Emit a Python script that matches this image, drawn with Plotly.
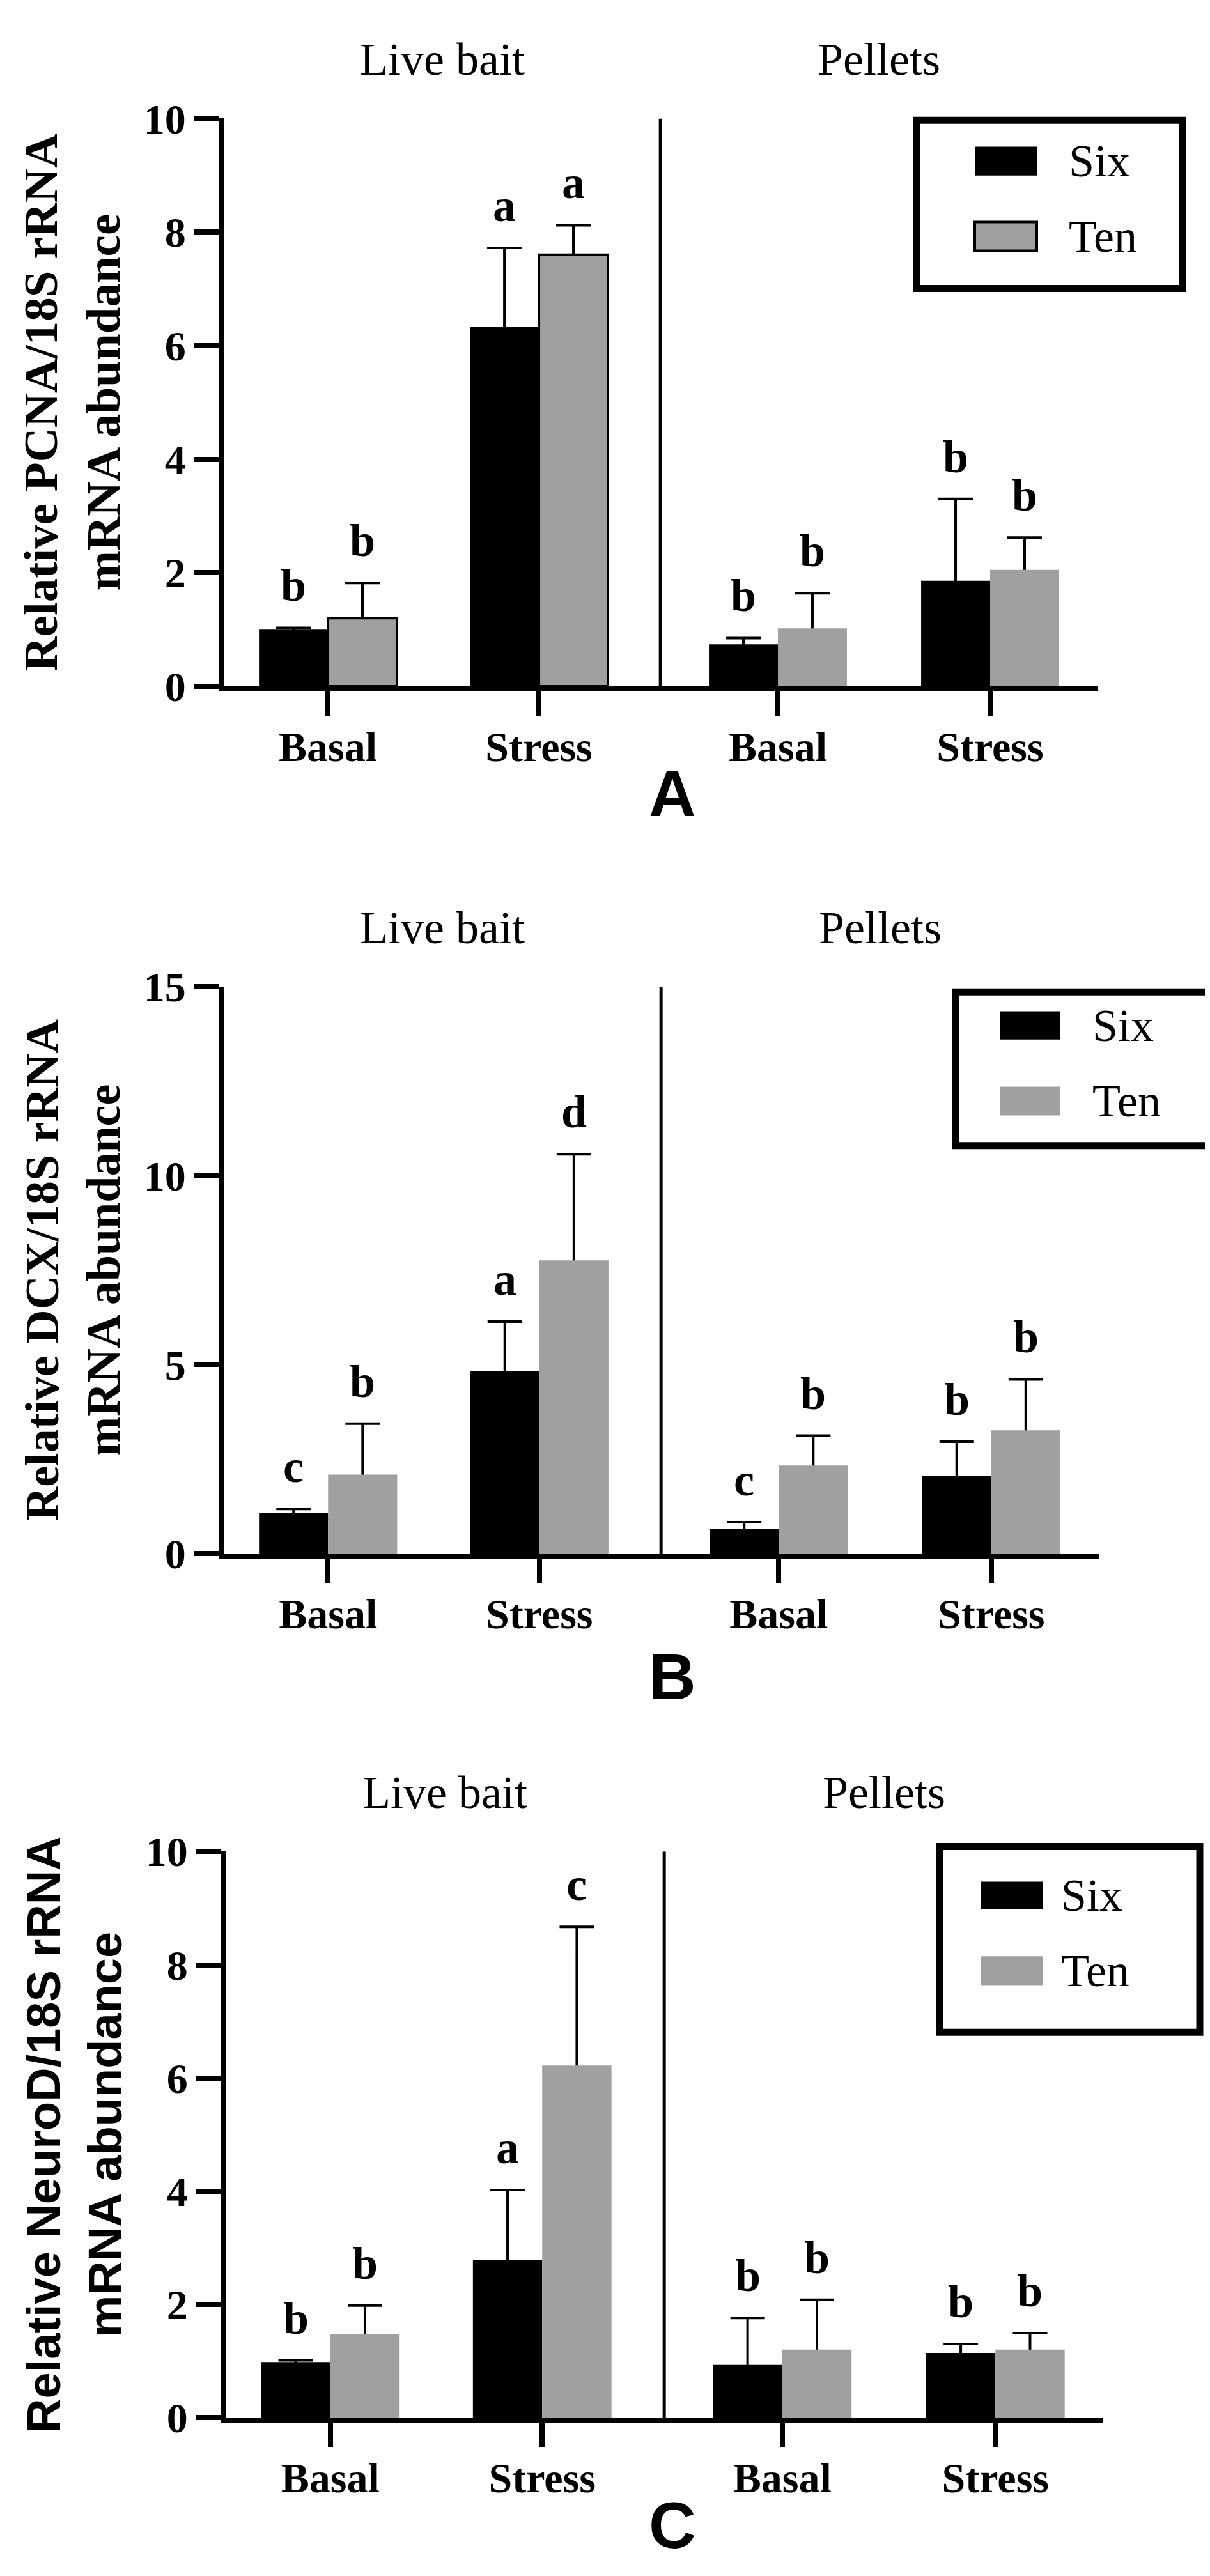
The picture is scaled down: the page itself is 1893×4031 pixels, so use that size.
import plotly.graph_objects as go

W, H = 1893, 4031

# ---------------- data ----------------
groups = ["Live bait", "Pellets"]
conditions = ["Basal", "Stress", "Basal", "Stress"]
series = ["Six", "Ten"]

pcna_six = [1.00, 6.33, 0.74, 1.86]
pcna_six_err = [0.03, 1.39, 0.11, 1.44]
pcna_ten = [1.20, 7.60, 1.02, 2.05]
pcna_ten_err = [0.62, 0.52, 0.62, 0.57]
pcna_six_letters = ["b", "a", "b", "b"]
pcna_ten_letters = ["b", "a", "b", "b"]

dcx_six = [1.08, 4.82, 0.65, 2.05]
dcx_six_err = [0.10, 1.32, 0.18, 0.91]
dcx_ten = [2.09, 7.76, 2.33, 3.26]
dcx_ten_err = [1.35, 2.81, 0.79, 1.35]
dcx_six_letters = ["c", "a", "c", "b"]
dcx_ten_letters = ["b", "d", "b", "b"]

neurod_six = [0.98, 2.78, 0.93, 1.14]
neurod_six_err = [0.03, 1.24, 0.83, 0.16]
neurod_ten = [1.48, 6.22, 1.20, 1.20]
neurod_ten_err = [0.50, 2.45, 0.88, 0.29]
neurod_six_letters = ["b", "a", "b", "b"]
neurod_ten_letters = ["b", "c", "b", "b"]

y_titles = ["Relative PCNA/18S rRNA<br>mRNA abundance",
            "Relative DCX/18S rRNA<br>mRNA abundance",
            "Relative NeuroD/18S rRNA<br>mRNA abundance"]
y_ranges = [10, 15, 10]
y_dticks = [2, 5, 2]
panel_labels = ["A", "B", "C"]

# ---------------- layout constants ----------------
SERIF = "Liberation Serif, Times New Roman, serif"
SANS = "Liberation Sans, Arial, sans-serif"
BLACK = "black"
GRAY = "rgb(160,160,163)"
CLEAR = "rgba(0,0,0,0)"

SLOT = [0, 1, 2.133, 3.139]   # x slots for the four categories
XR = [-0.494, 3.648]
DIV = 1.576
BW = 0.327
SHOE_PX = 6   # hide the lower whisker inside the bar

# pixel geometry per panel: (left, right, top, zero)
panels_px = [(342, 1709, 144, 1049), (342, 1711, 1528, 2431), (345, 1718, 2906, 3808)]
legend_px = [
    dict(box=(1426, 147, 1842, 415), six=(1517, 189, 1614, 235), ten=(1517, 309, 1614, 355), tx=1662, border_ten=True),
    dict(box=(1487, 1536, 1883, 1781), six=(1557, 1567, 1650, 1612), ten=(1557, 1687, 1650, 1733), tx=1699, border_ten=False),
    dict(box=(1462, 2898, 1869, 3194), six=(1527, 2954, 1624, 2998), ten=(1527, 3073, 1624, 3119), tx=1650, border_ten=False),
]
panel_letter_px = [(1044, 1220), (1044, 2628), (1044, 3980)]
title_fonts = [SERIF, SERIF, SANS]
title_sizes = [75, 74, 74]

def px(x):
    return x / W

def py(y):
    return 1 - y / H

datasets = [
    (pcna_six, pcna_six_err, pcna_ten, pcna_ten_err, pcna_six_letters, pcna_ten_letters),
    (dcx_six, dcx_six_err, dcx_ten, dcx_ten_err, dcx_six_letters, dcx_ten_letters),
    (neurod_six, neurod_six_err, neurod_ten, neurod_ten_err, neurod_six_letters, neurod_ten_letters),
]

fig = go.Figure()
shapes = []
annotations = []
layout_axes = {}

for i, (six, six_e, ten, ten_e, six_l, ten_l) in enumerate(datasets):
    n = "" if i == 0 else str(i + 1)
    xref, yref = "x" + n, "y" + n
    left, right, top, zero = panels_px[i]
    minus = [SHOE_PX * y_ranges[i] / (zero - top)] * 4
    ten_line_w = [4, 4, 0, 0] if i == 0 else [0, 0, 0, 0]

    def errs(arr):
        return dict(type="data", array=arr, arrayminus=minus, symmetric=False,
                    color=BLACK, thickness=4, width=27)

    # Six bars (error bars drawn on them; lower whisker hidden in the black fill)
    fig.add_trace(go.Bar(
        x=SLOT, y=six, name=series[0], xaxis=xref, yaxis=yref,
        offset=-BW, width=BW, marker=dict(color=BLACK, line=dict(width=0)),
        error_y=errs(six_e), showlegend=False))
    # Ten error bars (drawn beneath the Ten bars so only the upper part shows)
    fig.add_trace(go.Bar(
        x=SLOT, y=ten, name=series[1] + " SEM", xaxis=xref, yaxis=yref,
        offset=0, width=BW, marker=dict(color=CLEAR, line=dict(width=0)),
        error_y=errs(ten_e), showlegend=False, hoverinfo="skip"))
    # Ten bars
    fig.add_trace(go.Bar(
        x=SLOT, y=ten, name=series[1], xaxis=xref, yaxis=yref,
        offset=0, width=BW, marker=dict(color=GRAY, line=dict(width=ten_line_w, color=BLACK)),
        showlegend=False))

    layout_axes["xaxis" + n] = dict(
        domain=[px(left), px(right)], anchor=yref, range=XR,
        tickmode="array", tickvals=SLOT, ticktext=conditions,
        ticks="outside", ticklen=38, tickwidth=8, tickcolor=BLACK,
        showline=True, linewidth=8, linecolor=BLACK, showgrid=False, zeroline=False,
        tickfont=dict(family=SERIF, size=66, color=BLACK, weight="bold"),
        ticklabelstandoff=-8, fixedrange=True)
    layout_axes["yaxis" + n] = dict(
        domain=[py(zero), py(top)], anchor=xref, range=[0, y_ranges[i]],
        tickmode="linear", tick0=0, dtick=y_dticks[i],
        ticks="outside", ticklen=38, tickwidth=8, tickcolor=BLACK,
        showline=True, linewidth=8, linecolor=BLACK, showgrid=False, zeroline=False,
        tickfont=dict(family=SERIF, size=66, color=BLACK, weight="bold"),
        title=dict(text=y_titles[i], standoff=16,
                   font=dict(family=title_fonts[i], size=title_sizes[i], color=BLACK, weight="bold")),
        fixedrange=True)

    # divider between feed types
    shapes.append(dict(type="line", xref=xref, yref=yref, x0=DIV, x1=DIV, y0=0, y1=y_ranges[i],
                       line=dict(color=BLACK, width=5)))

    # group titles
    for gname, gx in zip(groups, [(XR[0] + DIV) / 2, (DIV + XR[1]) / 2]):
        annotations.append(dict(text=gname, xref=xref, yref=yref + " domain", x=gx, y=1,
                                xanchor="center", yanchor="bottom", yshift=50, showarrow=False,
                                font=dict(family=SERIF, size=72, color=BLACK)))

    # significance letters
    for k in range(4):
        annotations.append(dict(text=six_l[k], xref=xref, yref=yref, x=SLOT[k] - BW / 2,
                                y=six[k] + six_e[k], xanchor="center", yanchor="bottom", yshift=24,
                                showarrow=False,
                                font=dict(family=SERIF, size=72, color=BLACK, weight="bold")))
        annotations.append(dict(text=ten_l[k], xref=xref, yref=yref, x=SLOT[k] + BW / 2,
                                y=ten[k] + ten_e[k], xanchor="center", yanchor="bottom", yshift=24,
                                showarrow=False,
                                font=dict(family=SERIF, size=72, color=BLACK, weight="bold")))

    # legend box (drawn)
    lg = legend_px[i]
    bx0, by0, bx1, by1 = lg["box"]
    shapes.append(dict(type="rect", xref="paper", yref="paper", x0=px(bx0), x1=px(bx1),
                       y0=py(by1), y1=py(by0), line=dict(color=BLACK, width=11),
                       fillcolor="white", layer="above"))
    sx0, sy0, sx1, sy1 = lg["six"]
    shapes.append(dict(type="rect", xref="paper", yref="paper", x0=px(sx0), x1=px(sx1),
                       y0=py(sy1), y1=py(sy0), line=dict(width=0), fillcolor=BLACK, layer="above"))
    tx0, ty0, tx1, ty1 = lg["ten"]
    shapes.append(dict(type="rect", xref="paper", yref="paper", x0=px(tx0), x1=px(tx1),
                       y0=py(ty1), y1=py(ty0),
                       line=dict(width=4 if lg["border_ten"] else 0, color=BLACK),
                       fillcolor=GRAY, layer="above"))
    for name, (a0, b0, a1, b1) in zip(series, [lg["six"], lg["ten"]]):
        annotations.append(dict(text=name, xref="paper", yref="paper", x=px(lg["tx"]),
                                y=py((b0 + b1) / 2), xanchor="left", yanchor="middle",
                                showarrow=False, font=dict(family=SERIF, size=72, color=BLACK)))

    # panel letter
    lx, ly = panel_letter_px[i]
    annotations.append(dict(text=panel_labels[i], xref="paper", yref="paper", x=px(lx), y=py(ly),
                            xanchor="center", yanchor="middle", showarrow=False,
                            font=dict(family=SANS, size=102, color=BLACK, weight="bold")))

fig.update_layout(
    width=W, height=H, autosize=False,
    margin=dict(l=0, r=0, t=0, b=0),
    paper_bgcolor="white", plot_bgcolor="white",
    barmode="overlay", showlegend=False,
    shapes=shapes, annotations=annotations,
    **layout_axes)

fig.write_html("out.html")
